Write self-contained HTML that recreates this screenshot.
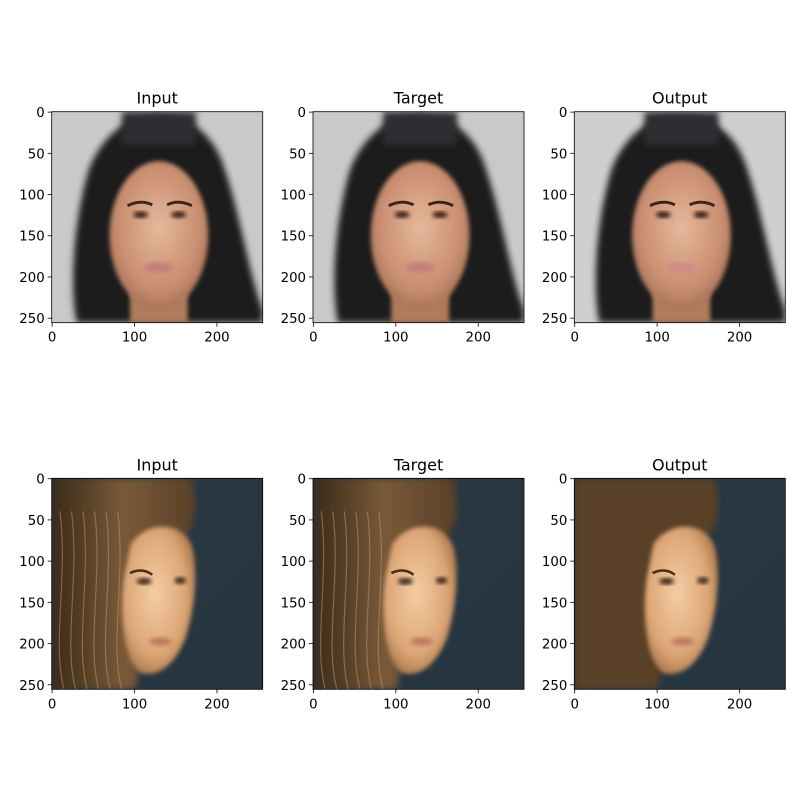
<!DOCTYPE html>
<html><head><meta charset="utf-8"><style>
body{margin:0;background:#fff}
svg text{font-family:"DejaVu Sans","Liberation Sans",sans-serif;font-size:13.3px;fill:#000}
</style></head><body>
<svg id="fig" width="800" height="800" viewBox="0 0 800 800" xmlns="http://www.w3.org/2000/svg">
<defs>
<filter id="bl" x="-20%" y="-20%" width="140%" height="140%"><feGaussianBlur stdDeviation="4"/></filter>
<filter id="bl2" x="-20%" y="-20%" width="140%" height="140%"><feGaussianBlur stdDeviation="2.5"/></filter>
<radialGradient id="skin1" cx="0.5" cy="0.45" r="0.6"><stop offset="0" stop-color="#e6b89c"/><stop offset="0.7" stop-color="#c88d70"/><stop offset="1" stop-color="#9a6a50"/></radialGradient>
<radialGradient id="skin2" cx="0.45" cy="0.45" r="0.6"><stop offset="0" stop-color="#f4cca4"/><stop offset="0.7" stop-color="#dca676"/><stop offset="1" stop-color="#a77448"/></radialGradient>
<linearGradient id="bg2" x1="0" y1="0" x2="1" y2="1"><stop offset="0" stop-color="#2c3a44"/><stop offset="1" stop-color="#243440"/></linearGradient>
<linearGradient id="hair2" x1="0" y1="0" x2="1" y2="0"><stop offset="0" stop-color="#3a2a18"/><stop offset="0.5" stop-color="#7a5a38"/><stop offset="1" stop-color="#5a4028"/></linearGradient>
</defs>
</svg>
<script>
const titles = ["Input","Target","Output"];
const xTicks = [0,100,200];
const yTicks = [0,50,100,150,200,250];
const colX = [51.7, 313, 574.3];
const rowY = [111.7, 478.3];
const S = 211/256;
const NS = "http://www.w3.org/2000/svg";
const fig = document.getElementById('fig');
function mk(tag, attrs, parent){const e=document.createElementNS(NS,tag);for(const k in attrs)e.setAttribute(k,attrs[k]);(parent||fig).appendChild(e);return e;}

function face1(g, out){
  mk('rect',{x:0,y:0,width:256,height:256,fill:out?'#cfcfcd':'#c9c9c7'},g);
  mk('path',{d:'M30 256 C20 200 30 120 45 70 C65 20 100 5 128 5 C160 5 195 20 210 70 C230 130 240 200 256 240 L256 256 Z',fill:'#1f1f1f',filter:'url(#bl)'},g);
  mk('rect',{x:85,y:0,width:90,height:40,fill:'#2e2e30',filter:'url(#bl)'},g);
  mk('rect',{x:95,y:215,width:70,height:41,fill:'#b07a5c',filter:'url(#bl2)'},g);
  mk('ellipse',{cx:130,cy:150,rx:60,ry:90,fill:'url(#skin1)',filter:'url(#bl2)'},g);
  mk('path',{d:'M92 114 Q108 106 122 113',stroke:'#3a2418',fill:'none','stroke-width':3.5},g);
  mk('path',{d:'M140 113 Q154 106 170 114',stroke:'#3a2418',fill:'none','stroke-width':3.5},g);
  mk('ellipse',{cx:108,cy:125,rx:9,ry:4,fill:'#3a2216',filter:'url(#bl2)'},g);
  mk('ellipse',{cx:154,cy:125,rx:9,ry:4,fill:'#3a2216',filter:'url(#bl2)'},g);
  mk('ellipse',{cx:130,cy:189,rx:18,ry:6,fill:out?'#d08a8a':'#c08078',filter:'url(#bl2)'},g);
}
function face2(g, out){
  mk('rect',{x:0,y:0,width:256,height:256,fill:'url(#bg2)'},g);
  mk('path',{d:'M0 0 L170 0 C180 40 170 80 150 70 C120 60 100 100 100 160 C100 210 110 240 100 256 L0 256 Z',fill:out?'#5a4028':'url(#hair2)',filter:'url(#bl)'},g);
  mk('path',{d:'M96 80 C115 50 165 50 172 90 C178 130 170 170 162 195 C150 225 130 242 108 236 C86 222 82 160 88 120 Z',fill:'url(#skin2)',filter:'url(#bl2)'},g);
  mk('path',{d:'M95 115 Q110 108 122 117',stroke:'#4a2c18',fill:'none','stroke-width':3},g);
  mk('ellipse',{cx:112,cy:125,rx:9,ry:4,fill:'#3a2a1e',filter:'url(#bl2)'},g);
  mk('ellipse',{cx:156,cy:124,rx:7,ry:4,fill:'#3a2a1e',filter:'url(#bl2)'},g);
  mk('ellipse',{cx:132,cy:198,rx:14,ry:5,fill:'#c07a60',filter:'url(#bl2)'},g);
  if(!out){for(let i=0;i<6;i++){mk('path',{d:`M${10+i*14} 40 C${20+i*14} 120 ${i*14} 200 ${15+i*14} 256`,stroke:'#c09870',fill:'none','stroke-width':1.5,opacity:0.5},g);}}
}

for(let r=0;r<2;r++){
  for(let c=0;c<3;c++){
    const x0=colX[c], y0=rowY[r];
    const ax=mk('g',{});
    
    
    const t=mk('text',{x:x0+105.5,y:y0-8,'text-anchor':'middle'},ax);
    
    
    t.style.fontSize='16px';
    t.textContent=titles[c];
    const clip=mk('clipPath',{id:`c${r}${c}`},ax);
    mk('rect',{x:0,y:0,width:256,height:256},clip);
    const img=mk('g',{transform:`translate(${x0},${y0}) scale(${S})`,'clip-path':`url(#c${r}${c})`},ax);
    
    
    if(r===0) face1(img,c===2); else face2(img,c===2);
    const fr=mk('rect',{x:x0,y:y0,width:211,height:211,fill:'none',stroke:'#000','stroke-width':0.8},ax);
    
    
    xTicks.forEach(v=>{
      const px=x0+(v+0.5)*S;
      mk('line',{x1:px,x2:px,y1:y0+211,y2:y0+215,stroke:'#000','stroke-width':0.8},ax);
      const l=mk('text',{x:px,y:y0+230,'text-anchor':'middle'},ax);
      
      
      l.textContent=v;
    });
    yTicks.forEach(v=>{
      const py=y0+(v+0.5)*S;
      mk('line',{x1:x0-4,x2:x0,y1:py,y2:py,stroke:'#000','stroke-width':0.8},ax);
      const l=mk('text',{x:x0-7,y:py+5,'text-anchor':'end'},ax);
      
      
      l.textContent=v;
    });
  }
}
</script>
</body></html>
